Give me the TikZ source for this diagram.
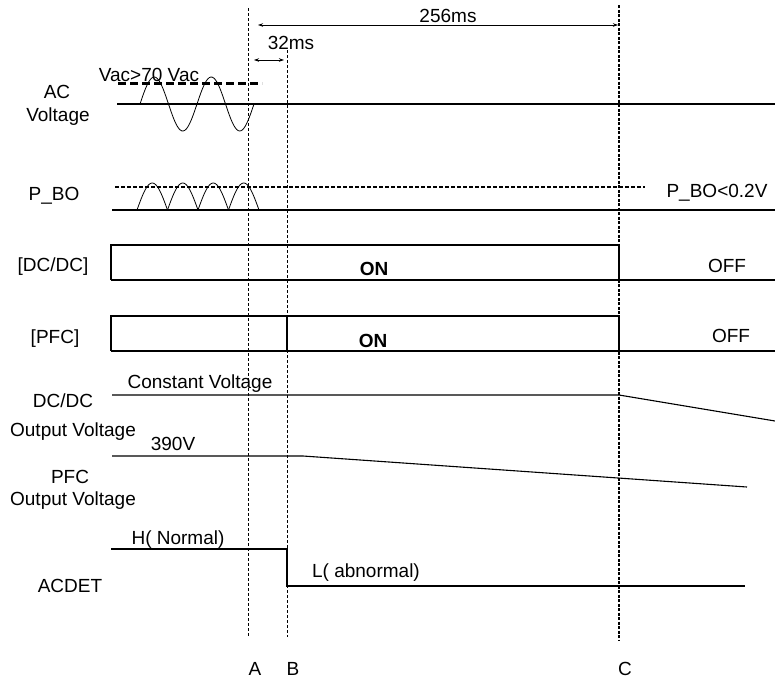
\documentclass[tikz,border=0pt]{standalone}
\usepackage{fontspec}
\setmainfont{Liberation Sans}
\usetikzlibrary{arrows.meta}

\begin{document}
\begin{tikzpicture}[x=1pt, y=-1pt,
  every node/.style={font=\fontsize{19}{22}\selectfont, inner sep=0pt, anchor=base},
  sig/.style={line width=1.1pt},
  wave/.style={line width=0.8pt},
  marker/.style={dash pattern=on 3pt off 2pt, line width=0.8pt},
  dimarrow/.style={line width=0.8pt, {Stealth[length=5pt,width=3.5pt]}-{Stealth[length=5pt,width=3.5pt]}}]

  \useasboundingbox (0,0) rectangle (775,678);

  % time markers A, B, C
  \coordinate (Atop) at (248,8);
  \coordinate (Abot) at (248,637);
  \coordinate (Btop) at (287,50);
  \coordinate (Bbot) at (287,637);
  \coordinate (Ctop) at (619,5);
  \coordinate (Cbot) at (619,640);
  \draw[marker] (Atop) -- (Abot);
  \draw[marker] (Btop) -- (Bbot);
  \draw[marker, line width=1.6pt, dash pattern=on 3pt off 1.5pt] (Ctop) -- (Cbot);
  \node at (255,675) (labA) {A};
  \node at (293,675) (labB) {B};
  \node at (625,675) (labC) {C};

  % timing arrows
  \coordinate (t256a) at (258,25);
  \coordinate (t256b) at (618,25);
  \draw[dimarrow] (t256a) -- (t256b);
  \node at (448,22) (t256) {256ms};
  \coordinate (t32a) at (254,60);
  \coordinate (t32b) at (284,60);
  \draw[dimarrow] (t32a) -- (t32b);
  \node at (291,49) (t32) {32ms};

  % AC Voltage
  \node at (57,98) (acl1) {AC};
  \node at (58,121) (acl2) {Voltage};
  \node at (149,81) (vth) {Vac>70 Vac};
  \draw[line width=3pt, dash pattern=on 8pt off 4pt] (118,83) -- (262,83);
  \draw[sig] (117,104) -- (775,104);
  \draw[wave] plot[domain=0:2, samples=80] ({140+57*\x}, {104-27*sin(360*\x)});

  % P_BO
  \node at (54,200) (pbol) {P\_BO};
  \draw[line width=1.3pt, dash pattern=on 4pt off 2pt] (115,187) -- (645,187);
  \node at (717,197) (pboth) {P\_BO<0.2V};
  \draw[sig] (112,210) -- (775,210);
  \foreach \i in {0,...,3}
    \draw[wave] plot[domain=0:1, samples=30] ({137+30.5*(\i+\x)}, {210-27*sin(180*\x)});

  % [DC/DC] enable
  \node at (53,271) (dcl) {[DC/DC]};
  \draw[sig] (111,280) -- (111,245) -- (619,245) -- (619,280);
  \draw[sig] (111,280) -- (775,280);
  \node[font=\fontsize{19}{22}\selectfont\bfseries] at (374,275) (dcon) {ON};
  \node at (727,272) (dcoff) {OFF};

  % [PFC] enable
  \node at (55,343) (pfcl) {[PFC]};
  \draw[sig] (111,351) -- (111,316) -- (619,316) -- (619,351);
  \draw[sig] (287,316) -- (287,351);
  \draw[sig] (111,351) -- (775,351);
  \node[font=\fontsize{19}{22}\selectfont\bfseries] at (373,347) (pfcon) {ON};
  \node at (731,342) (pfcoff) {OFF};

  % DC/DC output voltage
  \node at (63,407) (dcol1) {DC/DC};
  \node at (73,436) (dcol2) {Output Voltage};
  \node at (200,388) (cv) {Constant Voltage};
  \draw[sig] (112,395) -- (619,395) -- (775,421);

  % PFC output voltage
  \node at (70,483) (pfol1) {PFC};
  \node at (73,505) (pfol2) {Output Voltage};
  \node at (173,450) (v390) {390V};
  \draw[sig] (112,456) -- (303,456) -- (747,487);

  % ACDET
  \node at (70,592) (acdl) {ACDET};
  \node at (178,544) (hnorm) {H( Normal)};
  \node at (366,577) (labn) {L( abnormal)};
  \draw[sig] (111,549) -- (287,549) -- (287,586) -- (745,586);

\end{tikzpicture}
\end{document}
